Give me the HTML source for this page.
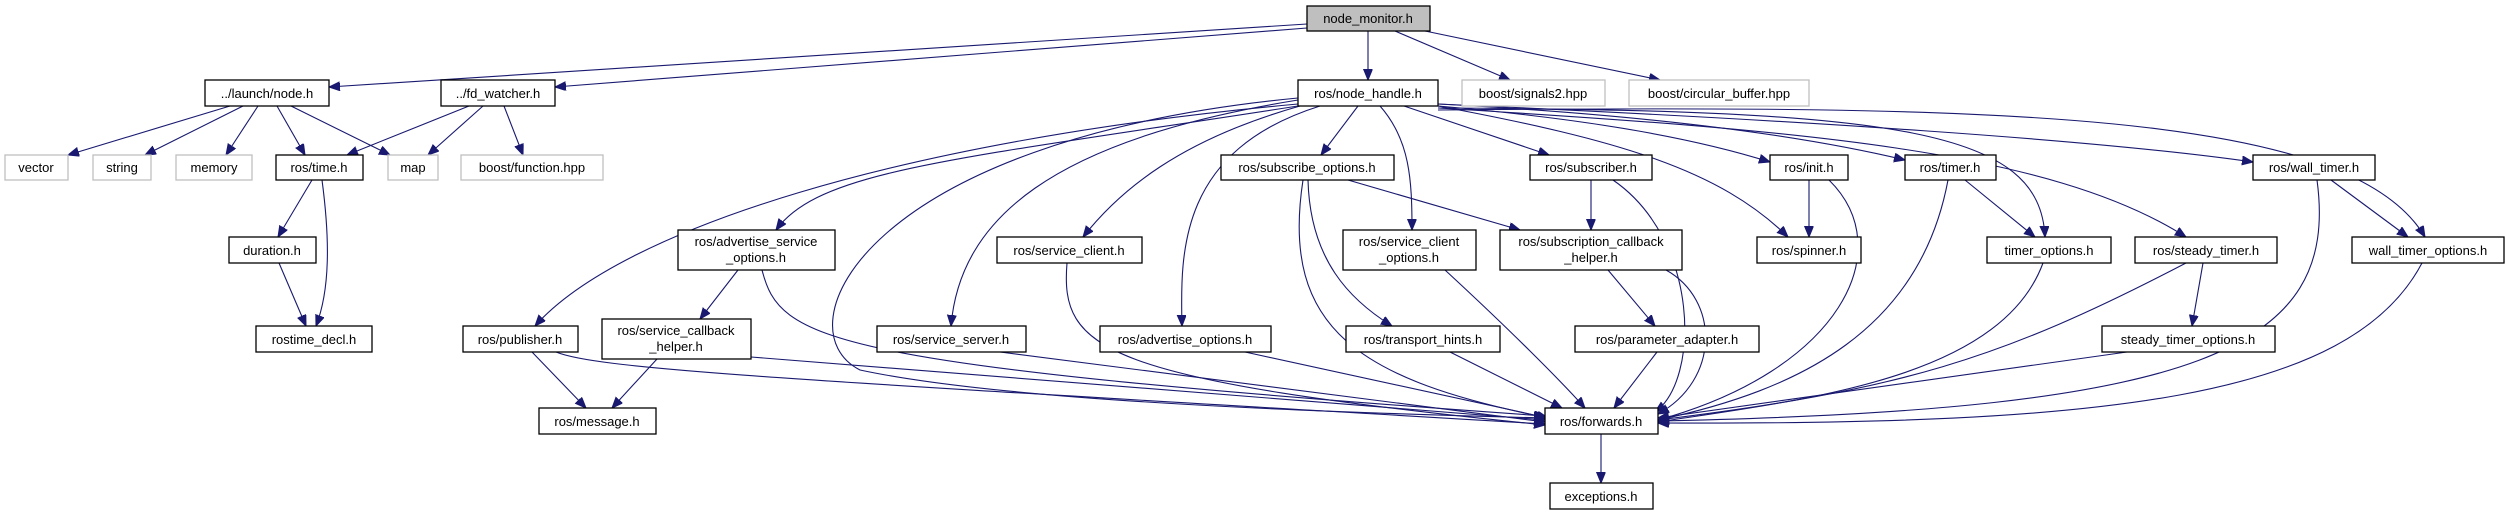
<!DOCTYPE html>
<html><head><meta charset="utf-8"><style>
html,body{margin:0;padding:0;background:#fff;}
svg{display:block;}
text{font-family:"Liberation Sans","DejaVu Sans",sans-serif;font-size:13px;fill:#000;}
.n{fill:#fff;stroke:#000;stroke-width:1.3;}
.g{fill:#fff;stroke:#bfbfbf;stroke-width:1.3;}
.e{fill:none;stroke:#191970;stroke-width:1.1;marker-end:url(#a);}
</style></head><body>
<svg width="2506" height="515" viewBox="0 0 2506 515" xmlns="http://www.w3.org/2000/svg">
<defs><marker id="a" markerUnits="userSpaceOnUse" markerWidth="12" markerHeight="10" refX="11" refY="4.5" orient="auto"><path d="M0,0 L11,4.5 L0,9 z" fill="#191970" stroke="#191970"/></marker></defs>

<g>
<path class="e" d="M1307,24 L329,87"/>
<path class="e" d="M1307,28 L555,87"/>
<path class="e" d="M1368,31 L1368,80"/>
<path class="e" d="M1395,31 L1510,80"/>
<path class="e" d="M1425,31 L1660,80"/>
<path class="e" d="M230,106 L68,155"/>
<path class="e" d="M243,106 L145,155"/>
<path class="e" d="M258,106 L226,155"/>
<path class="e" d="M277,106 L305,155"/>
<path class="e" d="M291,106 L390,155"/>
<path class="e" d="M469,106 L347,155"/>
<path class="e" d="M483,106 L428,155"/>
<path class="e" d="M504,106 L523,155"/>
<path class="e" d="M312,180 L278,237"/>
<path class="e" d="M322,180 C330,240 330,290 316,326"/>
<path class="e" d="M279,263 L306,326"/>
<path class="e" d="M1298,104 C900,140 620,230 535,326"/>
<path class="e" d="M1298,106 C950,160 820,170 776,230"/>
<path class="e" d="M1300,106 C1180,140 1120,190 1083,237"/>
<path class="e" d="M1298,100 C1050,140 960,220 951,326"/>
<path class="e" d="M1320,106 C1180,150 1180,250 1182,326"/>
<path class="e" d="M1358,106 L1321,155"/>
<path class="e" d="M1380,106 C1410,140 1412,180 1412,230"/>
<path class="e" d="M1404,106 L1549,155"/>
<path class="e" d="M1298,98 C860,140 780,330 860,370 C1000,400 1300,412 1545,418"/>
<path class="e" d="M1438,106 C1600,120 1700,140 1770,162"/>
<path class="e" d="M1438,104 C1650,115 1800,135 1905,160"/>
<path class="e" d="M1438,104 C1800,120 2100,140 2253,162"/>
<path class="e" d="M1438,106 C1620,140 1720,170 1788,237"/>
<path class="e" d="M1438,108 C1900,110 2040,130 2045,237"/>
<path class="e" d="M1438,108 C1800,130 2050,150 2186,237"/>
<path class="e" d="M1438,110 C2000,105 2350,110 2425,237"/>
<path class="e" d="M738,270 L700,319"/>
<path class="e" d="M762,270 C780,340 820,365 1545,416"/>
<path class="e" d="M657,359 L612,408"/>
<path class="e" d="M751,357 L1545,420"/>
<path class="e" d="M532,352 L586,408"/>
<path class="e" d="M556,352 C600,370 800,380 1545,424"/>
<path class="e" d="M1067,263 C1060,350 1100,380 1545,425"/>
<path class="e" d="M1000,352 L1545,422"/>
<path class="e" d="M1245,352 L1548,418"/>
<path class="e" d="M1348,180 L1520,230"/>
<path class="e" d="M1308,180 C1310,260 1350,300 1392,326"/>
<path class="e" d="M1303,180 C1280,330 1360,380 1548,418"/>
<path class="e" d="M1445,270 C1510,330 1560,380 1585,408"/>
<path class="e" d="M1450,352 L1562,408"/>
<path class="e" d="M1591,180 L1591,230"/>
<path class="e" d="M1613,180 C1700,240 1700,380 1655,412"/>
<path class="e" d="M1608,270 L1655,326"/>
<path class="e" d="M1666,270 C1720,300 1720,380 1658,414"/>
<path class="e" d="M1657,352 L1614,408"/>
<path class="e" d="M1809,180 L1809,237"/>
<path class="e" d="M1829,180 C1900,250 1840,370 1658,420"/>
<path class="e" d="M1965,180 L2035,237"/>
<path class="e" d="M1948,180 C1920,330 1800,390 1658,420"/>
<path class="e" d="M2043,263 C2000,380 1800,400 1658,422"/>
<path class="e" d="M2203,263 L2192,326"/>
<path class="e" d="M2186,263 C2000,360 1900,390 1658,420"/>
<path class="e" d="M2127,352 L1658,418"/>
<path class="e" d="M2331,180 L2408,237"/>
<path class="e" d="M2317,180 C2340,350 2200,410 1658,421"/>
<path class="e" d="M2422,263 C2350,400 2100,425 1658,423"/>
<path class="e" d="M1601,434 L1601,483"/>
</g>

<g text-anchor="middle">
<rect x="1307" y="6" width="123" height="25" fill="#bfbfbf" stroke="#000" stroke-width="1.3"/><text x="1368" y="23">node_monitor.h</text>
<rect class="n" x="205" y="80" width="124" height="26"/><text x="267" y="98">../launch/node.h</text>
<rect class="n" x="441" y="80" width="114" height="26"/><text x="498" y="98">../fd_watcher.h</text>
<rect class="n" x="1298" y="80" width="140" height="26"/><text x="1368" y="98">ros/node_handle.h</text>
<rect class="g" x="1462" y="80" width="143" height="26"/><text x="1533" y="98">boost/signals2.hpp</text>
<rect class="g" x="1629" y="80" width="180" height="26"/><text x="1719" y="98">boost/circular_buffer.hpp</text>
<rect class="g" x="5" y="155" width="63" height="25"/><text x="36" y="172">vector</text>
<rect class="g" x="93" y="155" width="58" height="25"/><text x="122" y="172">string</text>
<rect class="g" x="176" y="155" width="76" height="25"/><text x="214" y="172">memory</text>
<rect class="n" x="276" y="155" width="87" height="25"/><text x="319" y="172">ros/time.h</text>
<rect class="g" x="388" y="155" width="50" height="25"/><text x="413" y="172">map</text>
<rect class="g" x="461" y="155" width="142" height="25"/><text x="532" y="172">boost/function.hpp</text>
<rect class="n" x="1221" y="155" width="173" height="25"/><text x="1307" y="172">ros/subscribe_options.h</text>
<rect class="n" x="1530" y="155" width="122" height="25"/><text x="1591" y="172">ros/subscriber.h</text>
<rect class="n" x="1770" y="155" width="78" height="25"/><text x="1809" y="172">ros/init.h</text>
<rect class="n" x="1905" y="155" width="91" height="25"/><text x="1950" y="172">ros/timer.h</text>
<rect class="n" x="2253" y="155" width="122" height="25"/><text x="2314" y="172">ros/wall_timer.h</text>
<rect class="n" x="229" y="237" width="87" height="26"/><text x="272" y="255">duration.h</text>
<rect class="n" x="678" y="230" width="157" height="40"/><text x="756" y="246">ros/advertise_service</text><text x="756" y="262">_options.h</text>
<rect class="n" x="997" y="237" width="145" height="26"/><text x="1069" y="255">ros/service_client.h</text>
<rect class="n" x="1343" y="230" width="133" height="40"/><text x="1409" y="246">ros/service_client</text><text x="1409" y="262">_options.h</text>
<rect class="n" x="1500" y="230" width="182" height="40"/><text x="1591" y="246">ros/subscription_callback</text><text x="1591" y="262">_helper.h</text>
<rect class="n" x="1757" y="237" width="104" height="26"/><text x="1809" y="255">ros/spinner.h</text>
<rect class="n" x="1987" y="237" width="124" height="26"/><text x="2049" y="255">timer_options.h</text>
<rect class="n" x="2135" y="237" width="142" height="26"/><text x="2206" y="255">ros/steady_timer.h</text>
<rect class="n" x="2352" y="237" width="152" height="26"/><text x="2428" y="255">wall_timer_options.h</text>
<rect class="n" x="256" y="326" width="116" height="26"/><text x="314" y="344">rostime_decl.h</text>
<rect class="n" x="463" y="326" width="115" height="26"/><text x="520" y="344">ros/publisher.h</text>
<rect class="n" x="602" y="319" width="149" height="40"/><text x="676" y="335">ros/service_callback</text><text x="676" y="351">_helper.h</text>
<rect class="n" x="877" y="326" width="149" height="26"/><text x="951" y="344">ros/service_server.h</text>
<rect class="n" x="1100" y="326" width="171" height="26"/><text x="1185" y="344">ros/advertise_options.h</text>
<rect class="n" x="1346" y="326" width="154" height="26"/><text x="1423" y="344">ros/transport_hints.h</text>
<rect class="n" x="1575" y="326" width="184" height="26"/><text x="1667" y="344">ros/parameter_adapter.h</text>
<rect class="n" x="2102" y="326" width="173" height="26"/><text x="2188" y="344">steady_timer_options.h</text>
<rect class="n" x="539" y="408" width="117" height="26"/><text x="597" y="426">ros/message.h</text>
<rect class="n" x="1545" y="408" width="113" height="26"/><text x="1601" y="426">ros/forwards.h</text>
<rect class="n" x="1550" y="483" width="103" height="26"/><text x="1601" y="501">exceptions.h</text>
</g>
</svg>
</body></html>
